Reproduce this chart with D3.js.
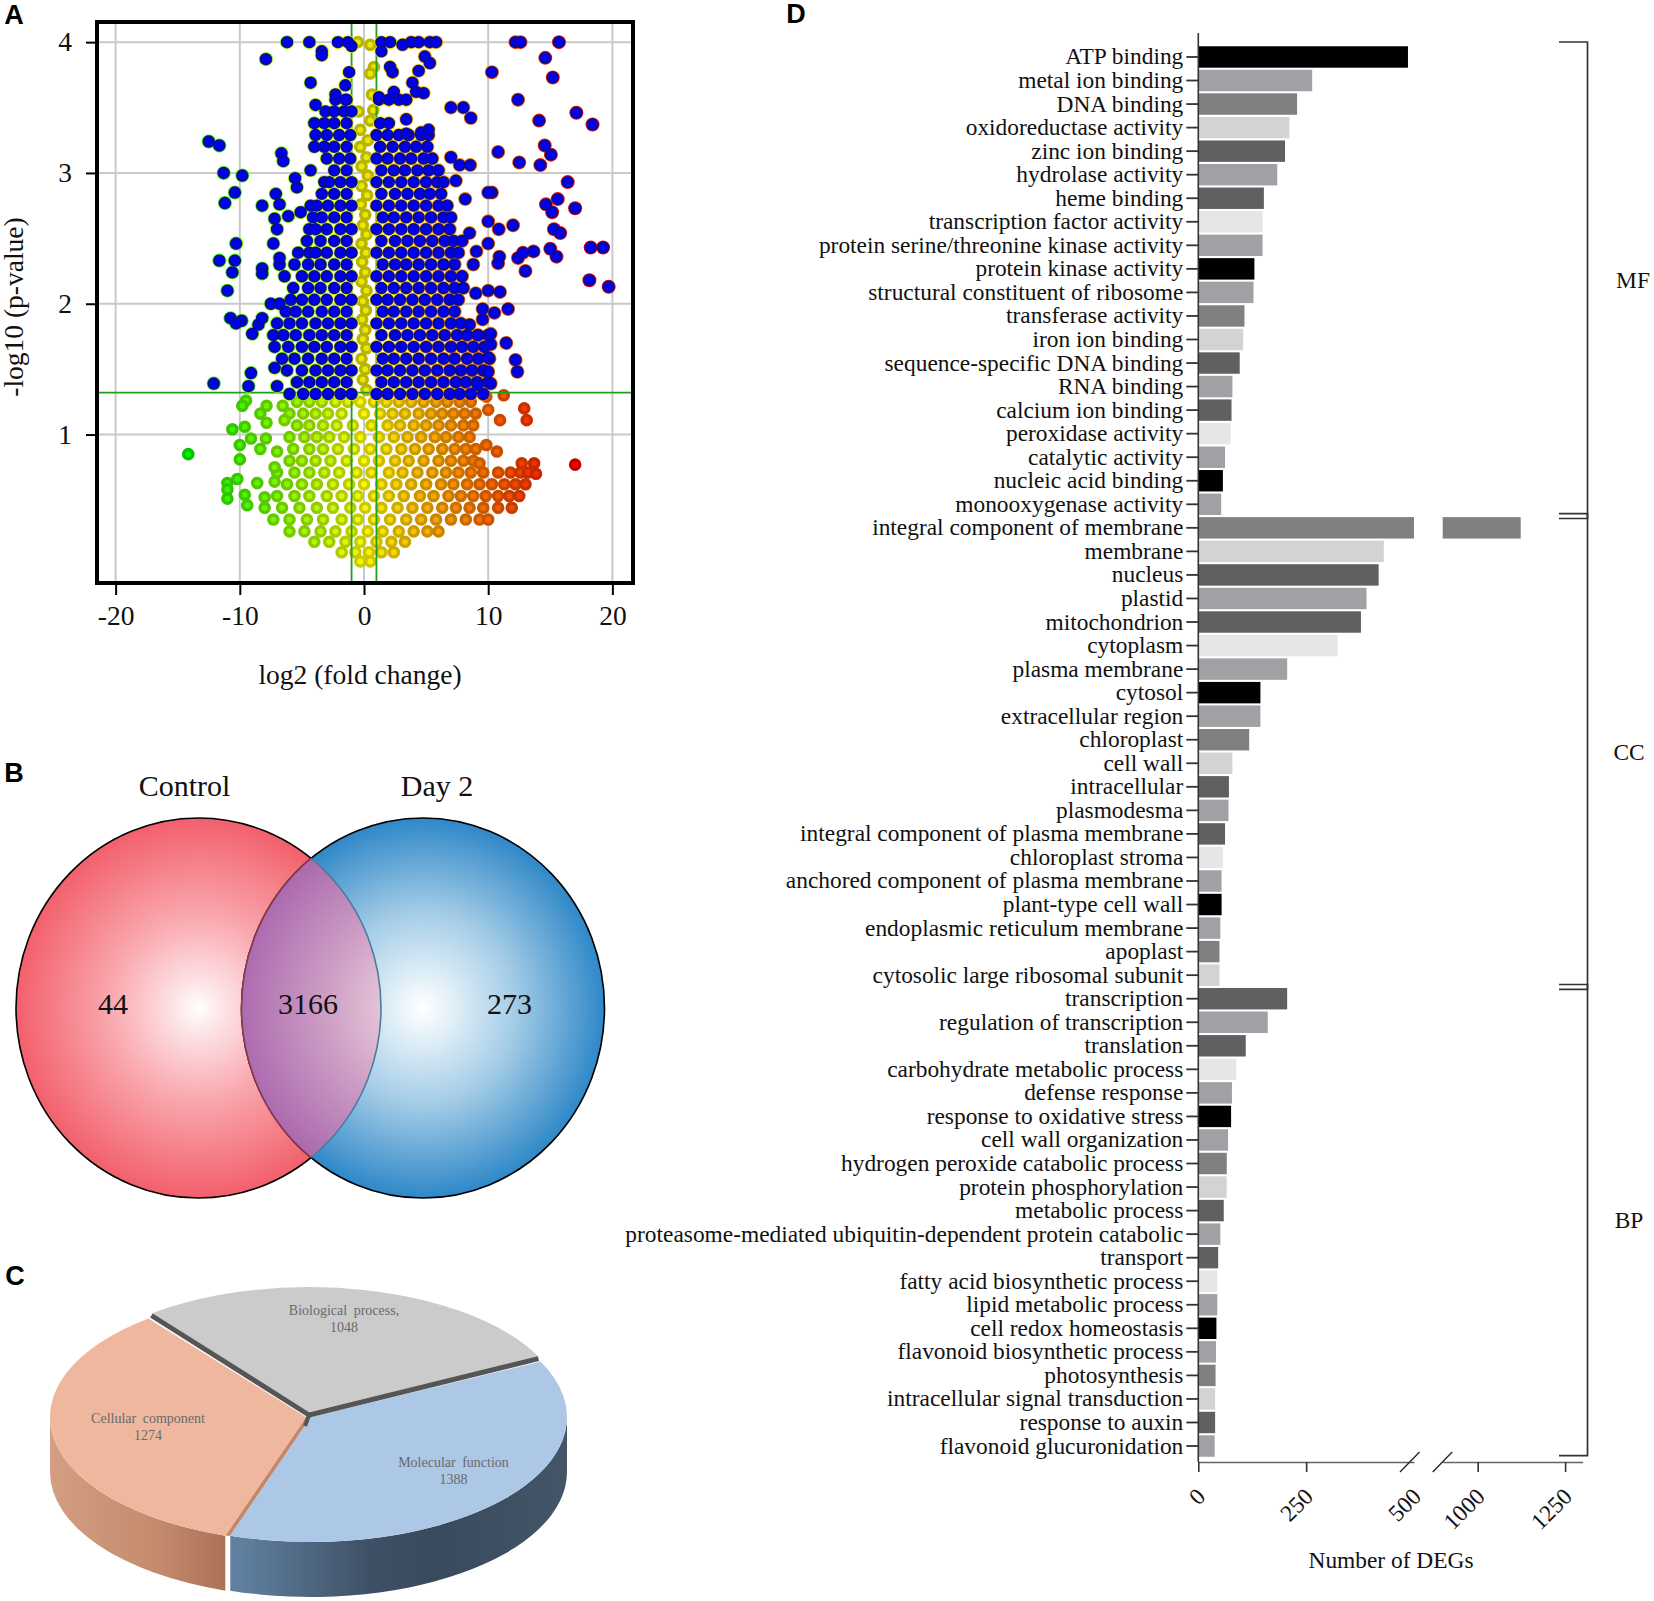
<!DOCTYPE html>
<html>
<head>
<meta charset="utf-8">
<script src="https://cdn.jsdelivr.net/npm/d3@7"></script>
<style>
html,body{margin:0;padding:0;background:#fff}
svg{display:block}
text{font-family:"Liberation Serif",serif;fill:#111}
.letter{font-family:"Liberation Sans",sans-serif;font-weight:700;font-size:27px;fill:#000}
</style>
</head>
<body>
<svg id="c" width="1654" height="1601"></svg>
<script>
// ---------- Panel A data ----------
const volcanoXTicks = [-20,-10,0,10,20];
const volcanoYTicks = [1,2,3,4];
const foldCut = 1;
const pCut = 1.32;
const sigRows = [
[1.31,[-6,-4.9,-3.9,-2.9,-1.9,-1,1,1.9,2.9,3.9,4.9,5.9,6.9,7.7,8.6,9.6]],
[1.40,[-5.4,-4.4,-3.4,-2.4,-1.4,1.4,2.4,3.4,4.4,5.4,6.4,7.4,8.2,9.1,10]],
[1.49,[-6.2,-5,-3.9,-2.9,-1.9,-1,1,1.9,2.9,3.9,4.9,5.9,6.9,7.8,8.7,9.6]],
[1.58,[-6.6,-5.6,-4.5,-3.4,-2.4,-1.4,1.5,2.4,3.4,4.4,5.4,6.4,7.3,8.3,9.2,10.1]],
[1.67,[-7.2,-6.1,-5,-4,-3,-1.9,-1,1,2,3,4,5,6,7,7.9,8.8,9.7]],
[1.76,[-7.3,-6.5,-5.5,-4.4,-3.4,-2.4,-1.4,1.4,2.5,3.5,4.5,5.5,6.5,7.5,8.3,9.2,10]],
[1.85,[-7,-6,-5,-3.9,-2.9,-1.9,-1,1,2,3,4,5,6,7,7.8]],
[1.94,[-6.3,-5.5,-4.5,-3.4,-2.4,-1.4,1.5,2.4,3.4,4.4,5.4,6.4,7.3]],
[2.03,[-5.9,-5,-4,-3,-1.9,-1,1,1.9,2.9,3.9,4.9,5.9,6.9,7.6]],
[2.12,[-5.7,-4.5,-3.5,-2.4,-1.4,1.4,2.4,3.4,4.4,5.4,6.4,7.3,8]],
[2.21,[-6.4,-5,-4,-3,-1.9,-1,1,2,3,4,5,6,7,7.9]],
[2.30,[-6.8,-5.6,-4.5,-3.5,-2.4,-1.4,1.5,2.5,3.4,4.4,5.4,6.4,7.3]],
[2.39,[-5.3,-4.4,-3.9,-3,-1.9,-1,1,2,3,4,5,6,7,7.6]],
[2.48,[-4.6,-3.5,-2.4,-1.4,1.4,2.5,3.5,4.5,5.5,6.5,7.2]],
[2.57,[-4.4,-3.9,-3,-1.9,-1,1,2,3,4,5,6,6.9]],
[2.66,[-4.1,-3.4,-2.4,-1.4,1.5,2.4,3.4,4.4,5.4,6.4,7]],
[2.75,[-4.3,-3.8,-2.9,-1.9,-1,1,2,3,4,5,6,6.7]],
[2.84,[-3.4,-2.4,-1.4,1.4,2.5,3.5,4.5,5.3,6.2]],
[2.93,[-3.2,-2.8,-1.9,-1,1,2,3,4,5,5.9,6.4]],
[3.02,[-2.4,-1.4,1.4,2.4,3.3,4.3,5.2,6]],
[3.11,[-3,-2,-1.1,1,1.9,2.9,3.8,4.8,5.5]],
[3.20,[-4,-3.2,-2.4,-1.4,1.3,2.3,3.3,4.2,5.1]],
[3.29,[-3.9,-3,-2,-1.1,1,1.9,2.8,3.6,4.6,5.2]],
[3.38,[-4,-3.2,-2.4,-1.4,1.3,2]],
[3.47,[-3.1,-2.4,-1.6,-1]],
[3.56,[-2.3,-1.4,1.2,2,2.8,3.4]]
];
const sigOutliers = [
[-6.2,4],[-4.4,4],[-2.1,4],[-1.3,4],[-1,3.97],[1.4,4],[2.1,4],[3.1,3.98],[3.8,4],[4.4,4],[5.3,4],[5.8,4],[12.2,4],[12.6,4],[15.7,4],
[-7.9,3.87],[-3.4,3.93],[-3.4,3.9],[-1.2,3.77],[-4.3,3.69],[-1.5,3.67],[-3.9,3.52],[-2.3,3.6],[-1.5,3.56],
[14.6,3.88],[15.2,3.73],[10.3,3.77],[12.4,3.56],[17.1,3.46],[14.1,3.4],[18.4,3.37],[7,3.5],[8,3.5],[8.6,3.42],
[1.4,3.93],[2.1,3.81],[2.3,3.77],[4.4,3.78],[4.9,3.89],[5.3,3.84],[3.9,3.69],[4.8,3.61],[4.2,3.62],[2.4,3.62],[1.2,3.58],[3.4,3.41],[3.4,3.3],[4.6,3.31],[5.2,3.33],
[-12.5,3.24],[-11.65,3.21],[-11.3,3],[-9.8,2.98],[-10.4,2.85],[-11.2,2.77],[-10.3,2.46],[-11.65,2.33],[-10.4,2.33],[-10.6,2.24],[-11,2.1],[-10.75,1.89],[-9.85,1.87],[-10.3,1.85],[-9,1.77],[-8.5,1.84],[-8.2,1.89],[-12.1,1.39],[-9.1,1.47],[-9.3,1.37],[-7,1.37],[-7.2,1.51],[-7.5,2],[-6.8,2],[-8.2,2.75],[-7.1,2.84],[-6.8,2.76],[-7.2,2.65],[-7,2.57],[-7.3,2.46],[-6.8,2.35],[-8.2,2.27],[-8.2,2.23],[-6.1,2.67],[-5.1,2.7],[-5.55,2.96],[-5.4,2.89],[-6.65,3.15],[-6.5,3.09],[-4.3,3.02],
[10.3,2.85],[10,2.85],[8.15,2.8],[7.4,2.94],[8.55,3.06],[7.7,3.06],[7,3.12],[10.8,3.16],[12.5,3.08],[14.2,3.06],[14.55,3.21],[15.05,3.14],[16.4,2.93],[15.6,2.8],[14.65,2.76],[15.15,2.7],[17,2.73],[10,2.63],[10.85,2.57],[12,2.6],[15.3,2.57],[15.8,2.54],[8.5,2.54],[7.9,2.48],[10,2.46],[9.05,2.4],[10.9,2.36],[10.8,2.31],[8.8,2.3],[12.4,2.35],[12.8,2.39],[13.65,2.4],[13,2.25],[15,2.42],[15.5,2.36],[18.25,2.43],[19.25,2.43],[18.15,2.18],[19.7,2.13],[10,2.1],[10.95,2.09],[9,2.08],[9.55,1.96],[10.5,1.93],[11.6,1.96],[9.55,1.88],[8.5,1.84],[11.45,1.7],[12.2,1.57],[12.35,1.48],[9.15,1.76],[10.2,1.77],[10.2,1.69],[10,1.59],[10,1.48],[10.2,1.39],[9.15,1.38]
];
const columnPoints = [
[-0.5,4],[0.5,3.98],[0.8,3.81],[0.5,3.76],[0.64,3.6],[-0.45,3.47],[0.75,3.48],[0.5,3.4],[-0.3,3.33],[0.3,3.25],[-0.3,3.2],[0.2,3.12],[-0.2,3.05],[0.3,2.98],[-0.2,2.9],[0.25,2.83],[-0.25,2.76],[0.1,2.68],[-0.1,2.6],[0.2,2.53],[-0.2,2.46],[0.15,2.39],[-0.15,2.32],[0.1,2.24],[-0.2,2.17],[0.2,2.1],[-0.1,2.02],[0.15,1.95],[-0.15,1.88],[0.1,1.8],[-0.1,1.73],[0.2,1.66],[-0.2,1.58],[0.1,1.5],[-0.1,1.42],[0.2,1.34]
];
const lowRows = [
[1.25,[-5.4,-4.4,-3.4,-2.3,-1.3,-0.3,0.8,1.8,2.8,3.8,4.8,5.8,6.7,7.7,8.6]],
[1.16,[-6,-4.9,-3.9,-2.9,-1.8,0,1.3,2.3,3.3,4.4,5.4,6.3,7.2,8.1,9]],
[1.07,[-5.4,-4.4,-3.3,-2.2,-0.9,0.6,1.9,2.9,4,5,6,7,8,8.8]],
[0.98,[-6,-4.8,-3.8,-2.8,-1.6,-0.3,1.2,2.4,3.5,4.6,5.7,6.6,7.6,8.5]],
[0.89,[-5.7,-4.4,-3.3,-2.1,-0.8,0.5,1.8,3,4.1,5.2,6.3,7.3,8.2,9]],
[0.80,[-6,-5,-3.9,-2.7,-1.4,0,1.2,2.5,3.6,4.8,6,7,8,8.8]],
[0.71,[-7,-5.6,-4.4,-3.2,-2,-0.6,0.6,2,3.1,4.3,5.5,6.6,7.6,8.6,9.6,10.8,11.8,12.6,13.2]],
[0.62,[-6.2,-5,-3.8,-2.5,-1.2,0,1.4,2.6,3.8,5,6.2,7.2,8.3,9.3,10.3,11.3,12.2,13]],
[0.53,[-7,-5.6,-4.4,-3,-1.8,-0.5,0.8,2,3.2,4.5,5.6,6.8,7.8,8.8,9.8,10.8,11.7,12.5]],
[0.44,[-8,-6.6,-5.2,-3.8,-2.5,-1.1,0.1,1.4,2.7,3.9,5.1,6.3,7.4,8.5,9.6,10.8,11.9]],
[0.35,[-7.3,-6,-4.6,-3.3,-1.8,-0.5,0.8,2.1,3.4,4.6,5.8,7,8.2,9.3,10]],
[0.26,[-6,-4.8,-3.5,-2.3,-1,0.3,1.5,2.8,4,5.1,6]],
[0.18,[-4,-2.8,-1.5,-0.3,1,2.2,3.3]],
[0.10,[-1.8,-0.7,0.4,1.4,2.4]],
[0.03,[-0.3,0.5]]
];
const lowOutliers = [
[-9.5,1.26],[-9.8,1.22],[-7.85,1.22],[-8.35,1.16],[-7.85,1.09],[-6.55,1.22],[-6.4,1.11],[-10.6,1.04],[-9.6,1.06],[-9.1,0.97],[-10,0.92],[-7.9,0.97],[-8.35,0.89],[-10,0.81],[-7,0.87],[-14.15,0.85],[-7.2,0.75],[-10.2,0.66],[-11,0.63],[-11,0.58],[-11,0.51],[-8.6,0.63],[-7.2,0.64],[-9.6,0.54],[-9.4,0.46],[-8,0.52],
[11.25,1.3],[12.9,1.2],[13.1,1.11],[10.95,1.11],[10,1.19],[9.85,1.29],[9.85,0.92],[10.7,0.87],[17,0.77],[13.7,0.78],[12.7,0.78],[13.85,0.7],[9.3,0.78]
];

// ---------- Panel B data ----------
const vennLabels = ["Control","Day 2"];
const vennCounts = [44,3166,273];

// ---------- Panel C data ----------
const pieNames = ["Biological process,","Molecular function","Cellular component"];
const pieValues = [1048,1388,1274];

// ---------- Panel D data ----------
const goTerms = ["ATP binding","metal ion binding","DNA binding","oxidoreductase activity","zinc ion binding","hydrolase activity","heme binding","transcription factor activity","protein serine/threonine kinase activity","protein kinase activity","structural constituent of ribosome","transferase activity","iron ion binding","sequence-specific DNA binding","RNA binding","calcium ion binding","peroxidase activity","catalytic activity","nucleic acid binding","monooxygenase activity",
"integral component of membrane","membrane","nucleus","plastid","mitochondrion","cytoplasm","plasma membrane","cytosol","extracellular region","chloroplast","cell wall","intracellular","plasmodesma","integral component of plasma membrane","chloroplast stroma","anchored component of plasma membrane","plant-type cell wall","endoplasmic reticulum membrane","apoplast","cytosolic large ribosomal subunit",
"transcription","regulation of transcription","translation","carbohydrate metabolic process","defense response","response to oxidative stress","cell wall organization","hydrogen peroxide catabolic process","protein phosphorylation","metabolic process","proteasome-mediated ubiquitin-dependent protein catabolic","transport","fatty acid biosynthetic process","lipid metabolic process","cell redox homeostasis","flavonoid biosynthetic process","photosynthesis","intracellular signal transduction","response to auxin","flavonoid glucuronidation"];
const goCounts = [486,264,229,211,201,183,152,149,149,130,128,107,104,96,79,77,75,62,57,53,
1123,430,418,390,377,323,206,144,144,118,79,71,70,62,57,54,54,51,49,49,
206,161,110,88,78,76,69,66,66,59,51,46,44,44,42,41,40,39,39,38];
const barPalette = ["#000000","#a0a0a5","#808080","#d3d3d3","#606060","#a0a0a5","#606060","#e6e6e6","#a0a0a5"];
const lowTicks = [0,250,500];
const highTicks = [1000,1250];
const brackets = [{name:"MF",from:0,to:19},{name:"CC",from:20,to:39},{name:"BP",from:40,to:59}];

const svg = d3.select("#c");
const defs = svg.append("defs");
const letter = (t,x,y)=>svg.append("text").attr("class","letter").attr("x",x).attr("y",y).attr("text-anchor","middle").attr("dominant-baseline","central").text(t);
letter("A",14,15); letter("B",14,773); letter("C",15,1276); letter("D",796,14);

// ========== A: volcano ==========
(function(){
  const L=97,R=633,T=22,B=583;
  const x=d3.scaleLinear().domain([-21.5,21.66]).range([L,R]);
  const y=d3.scaleLinear().domain([-0.135,4.154]).range([B,T]);
  const g=svg.append("g");
  const flat=rows=>rows.flatMap(([yy,xs])=>xs.map(v=>[v,yy]));
  const hue=d3.scaleLinear().domain([-14,0,17]).range(["#00f000","#f8f800","#f00000"]);
  // grid
  g.append("g").selectAll("line").data(volcanoXTicks).join("line")
    .attr("x1",d=>x(d)).attr("x2",d=>x(d)).attr("y1",T).attr("y2",B).attr("stroke","#c9c9c9").attr("stroke-width",2);
  g.append("g").selectAll("line").data(volcanoYTicks).join("line")
    .attr("y1",d=>y(d)).attr("y2",d=>y(d)).attr("x1",L).attr("x2",R).attr("stroke","#c9c9c9").attr("stroke-width",2);
  const dots=(data,sel)=>sel.selectAll("circle").data(data).join("circle").attr("cx",d=>x(d[0])).attr("cy",d=>y(d[1]));
  // non-significant points
  const low=flat(lowRows).concat(lowOutliers);
  dots(low,g.append("g")).attr("r",4.6).attr("fill",d=>hue(d[0])).attr("stroke",d=>d3.color(hue(d[0])).darker(0.55)).attr("stroke-width",3.4);
  // centre column
  dots(columnPoints,g.append("g")).attr("r",4.6).attr("fill","#e8e800").attr("stroke","#b8b400").attr("stroke-width",3.4);
  // cut-offs
  const cut=g.append("g").attr("stroke","#1ea01e").attr("stroke-width",1.8);
  [-foldCut,foldCut].forEach(v=>cut.append("line").attr("x1",x(v)).attr("x2",x(v)).attr("y1",T).attr("y2",B));
  cut.append("line").attr("x1",L).attr("x2",R).attr("y1",y(pCut)).attr("y2",y(pCut));
  // significant points
  const sig=flat(sigRows).concat(sigOutliers);
  dots(sig,g.append("g")).attr("r",7).attr("fill",d=>hue(d[0]));
  dots(sig,g.append("g")).attr("r",5.2).attr("fill","#0000f0").attr("stroke","#0a0a9a").attr("stroke-width",2);
  // frame and axes
  g.append("rect").attr("x",L).attr("y",T).attr("width",R-L).attr("height",B-T).attr("fill","none").attr("stroke","#000").attr("stroke-width",4);
  const ax=g.append("g").attr("transform",`translate(0,${B})`).call(d3.axisBottom(x).tickValues(volcanoXTicks).tickSize(12).tickPadding(10));
  const ay=g.append("g").attr("transform",`translate(${L},0)`).call(d3.axisLeft(y).tickValues(volcanoYTicks).tickSize(11).tickPadding(14).tickFormat(d3.format("d")));
  [ax,ay].forEach(a=>{a.select(".domain").remove();a.selectAll("line").attr("stroke","#000").attr("stroke-width",2);a.selectAll("text").attr("font-size",27.5).attr("font-family","Liberation Serif").attr("fill","#111");});
  ax.selectAll("text").text(d=>d<0?"-"+Math.abs(d):d);
  g.append("text").attr("x",360).attr("y",684).attr("text-anchor","middle").attr("font-size",27.5).text("log2 (fold change)");
  g.append("text").attr("transform","translate(23,307) rotate(-90)").attr("text-anchor","middle").attr("font-size",27.5).text("-log10 (p-value)");
})();

// ========== B: venn ==========
(function(){
  const cy=1008,ry=190,lc={cx:198.5,rx:182.5},rc={cx:423,rx:181.5};
  const radial=(id,stops,attrs)=>{const g=defs.append("radialGradient").attr("id",id);Object.entries(attrs||{}).forEach(([k,v])=>g.attr(k,v));stops.forEach(s=>g.append("stop").attr("offset",s[0]).attr("stop-color",s[1]));};
  radial("red",[[0,"#ffffff"],[0.12,"#fde6e8"],[0.5,"#f9a5ac"],[1,"#f2606c"]]);
  radial("blue",[[0,"#ffffff"],[0.12,"#eaf4fa"],[0.5,"#a5cde7"],[1,"#2f88c8"]]);
  radial("lens",[[0.2,"#e6c6d8"],[0.5,"#d0a2c6"],[1,"#ad6cb0"]],{gradientUnits:"userSpaceOnUse",cx:rc.cx,cy:cy,r:rc.rx});
  const g=svg.append("g");
  g.append("ellipse").attr("cx",lc.cx).attr("cy",cy).attr("rx",lc.rx).attr("ry",ry).attr("fill","url(#red)").attr("stroke","#000").attr("stroke-width",1.6);
  g.append("ellipse").attr("cx",rc.cx).attr("cy",cy).attr("rx",rc.rx).attr("ry",ry).attr("fill","url(#blue)").attr("stroke","#000").attr("stroke-width",1.6);
  defs.append("clipPath").attr("id","leftClip").append("ellipse").attr("cx",lc.cx).attr("cy",cy).attr("rx",lc.rx).attr("ry",ry);
  defs.append("clipPath").attr("id","rightClip").append("ellipse").attr("cx",rc.cx).attr("cy",cy).attr("rx",rc.rx).attr("ry",ry);
  g.append("g").attr("clip-path","url(#leftClip)").append("ellipse").attr("cx",rc.cx).attr("cy",cy).attr("rx",rc.rx).attr("ry",ry).attr("fill","url(#lens)").attr("stroke","#8a3a50").attr("stroke-width",1.6);
  g.append("g").attr("clip-path","url(#rightClip)").append("ellipse").attr("cx",lc.cx).attr("cy",cy).attr("rx",lc.rx).attr("ry",ry).attr("fill","none").attr("stroke","#4a7d9e").attr("stroke-width",1.6);
  g.append("g").selectAll("text").data(vennLabels).join("text").attr("x",(d,i)=>[184.5,437][i]).attr("y",796).attr("text-anchor","middle").attr("font-size",30).text(d=>d);
  g.append("g").selectAll("text").data(vennCounts).join("text").attr("x",(d,i)=>[113,308,509.5][i]).attr("y",1014).attr("text-anchor","middle").attr("font-size",30).attr("fill","#000").text(d=>d);
})();

// ========== C: 3D pie ==========
(function(){
  const rx=256,ry=125,depth=55,rad=Math.PI/180;
  const arcs=d3.pie().sort(null).startAngle(-38*rad).endAngle(322*rad)(pieValues);
  const arc=d3.arc().innerRadius(0).outerRadius(rx);
  const centers=[{x:309,y:1412},{x:311,y:1417},{x:306,y:1417}];
  const tops=[["#cbcbcb","#bcbcbc"],["#adc7e6","#8fb4e0"],["#efb89e","#f5a584"]];
  const pt=(c,a)=>[c.x+rx*Math.sin(a),c.y-ry*Math.cos(a)];
  const wall=(c,a0,a1)=>{const p0=pt(c,a0),p1=pt(c,a1);return `M${p0}A${rx} ${ry} 0 0 1 ${p1}L${p1[0]} ${p1[1]+depth}A${rx} ${ry} 0 0 0 ${p0[0]} ${p0[1]+depth}Z`;};
  const lin=(id,x1,x2,y1,y2,c1,c2,stops)=>{const g=defs.append("linearGradient").attr("id",id).attr("gradientUnits","userSpaceOnUse").attr("x1",x1).attr("x2",x2).attr("y1",y1).attr("y2",y2);(stops||[[0,c1],[1,c2]]).forEach(s=>g.append("stop").attr("offset",s[0]).attr("stop-color",s[1]));};
  tops.forEach((t,i)=>lin("top"+i,0,0,1285,1545,t[0],t[1]));
  lin("wallB",240,566,0,0,null,null,[[0,"#60809f"],[0.4,"#3f5066"],[0.6,"#394a5c"],[1,"#445568"]]);
  lin("wallO",50,232,0,0,null,null,[[0,"#d49e82"],[0.6,"#c48a6c"],[1,"#a96f56"]]);
  const g=svg.append("g");
  const face=(i)=>g.append("path").attr("d",arc(arcs[i])).attr("transform",`translate(${centers[i].x},${centers[i].y}) scale(1,${ry/rx})`).attr("fill",`url(#top${i})`);
  face(0);
  // orange: wall, then the band of its cut face, then top
  g.append("path").attr("d",wall(centers[2],arcs[2].startAngle,270*rad)).attr("fill","url(#wallO)");
  const oR=pt(centers[2],arcs[2].startAngle), bR=pt(centers[1],arcs[1].endAngle);
  g.append("path").attr("d",`M${centers[2].x},${centers[2].y}L${oR}L${bR}L${centers[1].x},${centers[1].y}Z`).attr("fill","#c4876a");
  face(2);
  g.append("path").attr("d",wall(centers[1],90*rad,arcs[1].endAngle)).attr("fill","url(#wallB)");
  face(1);
  // separators
  const sep=g.append("g").attr("stroke","#555").attr("stroke-width",5).attr("fill","none");
  const c0=centers[0];
  [arcs[0].startAngle,arcs[0].endAngle].forEach(a=>{const p=pt(c0,a);sep.append("line").attr("x1",c0.x).attr("y1",c0.y+3).attr("x2",p[0]).attr("y2",p[1]+2);});
  sep.append("line").attr("x1",c0.x).attr("y1",c0.y+3).attr("x2",c0.x-4).attr("y2",c0.y+14).attr("stroke-width",4);
  const lab=[[344,1315],[453.5,1467],[148,1423]];
  pieNames.forEach((n,i)=>{
    const t=g.append("text").attr("text-anchor","middle").attr("font-size",14).attr("style","fill:#6a6a6a;word-spacing:3px");
    t.append("tspan").attr("x",lab[i][0]).attr("y",lab[i][1]).text(n);
    t.append("tspan").attr("x",lab[i][0]).attr("y",lab[i][1]+17).text(pieValues[i]);
  });
})();

// ========== D: GO bars ==========
(function(){
  const x0=1198.3;
  const xA=d3.scaleLinear().domain([0,500]).range([x0,1414]);
  const xB=d3.scaleLinear().domain([900,1300]).range([1442.7,1582.6]);
  const y=d3.scaleBand().domain(goTerms).range([45.2,1457.8]).paddingInner(0.09).paddingOuter(0.045);
  const g=svg.append("g");
  const row=g.append("g").selectAll("g").data(goTerms).join("g");
  row.append("rect").attr("x",x0).attr("y",d=>y(d)).attr("height",y.bandwidth())
    .attr("width",(d,i)=>xA(Math.min(goCounts[i],500))-x0).attr("fill",(d,i)=>barPalette[i%barPalette.length]);
  row.filter((d,i)=>goCounts[goTerms.indexOf(d)]>500).append("rect").attr("x",xB(900)).attr("y",d=>y(d)).attr("height",y.bandwidth())
    .attr("width",d=>xB(goCounts[goTerms.indexOf(d)])-xB(900)).attr("fill",d=>barPalette[goTerms.indexOf(d)%barPalette.length]);
  const ay=g.append("g").attr("transform",`translate(${x0},0)`).call(d3.axisLeft(y).tickSize(12).tickPadding(3));
  ay.select(".domain").remove();
  ay.selectAll("line").attr("stroke","#333").attr("stroke-width",1.8);
  ay.selectAll("text").attr("font-size",23.4).attr("font-family","Liberation Serif").attr("fill","#111");
  g.append("line").attr("x1",x0).attr("x2",x0).attr("y1",33).attr("y2",1462).attr("stroke","#333").attr("stroke-width",1.6);
  const axisY=1462;
  const a1=g.append("g").attr("transform",`translate(0,${axisY})`).call(d3.axisBottom(xA).tickValues(lowTicks).tickSize(10).tickSizeOuter(0).tickFormat(d3.format("d")));
  const a2=g.append("g").attr("transform",`translate(0,${axisY})`).call(d3.axisBottom(xB).tickValues(highTicks).tickSize(10).tickSizeOuter(0).tickFormat(d3.format("d")));
  [a1,a2].forEach(a=>{
    a.select(".domain").attr("stroke","#666").attr("stroke-width",1.6);
    a.selectAll("line").attr("stroke","#333").attr("stroke-width",1.6);
    a.selectAll("text").attr("font-size",23.4).attr("font-family","Liberation Serif").attr("fill","#111")
      .attr("text-anchor","end").attr("dy",0).attr("y",0).attr("transform","translate(8,36) rotate(-45)");
  });
  a1.selectAll(".tick").filter(d=>d===500).select("line").remove();
  [xA(500)-4,xB(900)].forEach(c=>g.append("line").attr("x1",c-10).attr("x2",c+9.5).attr("y1",axisY+10).attr("y2",axisY-10).attr("stroke","#222").attr("stroke-width",1.3));
  g.append("text").attr("x",1391).attr("y",1568).attr("text-anchor","middle").attr("font-size",23.4).text("Number of DEGs");
  // brackets
  const bx0=1559,bx1=1587.5;
  brackets.forEach(b=>{
    const t=y(goTerms[b.from])-3.5,u=y(goTerms[b.to])+y.bandwidth()+3.5;
    const top=b.from===0?42:t,bot=b.to===59?1455.6:u;
    g.append("path").attr("d",d3.line()([[bx0,top],[bx1,top],[bx1,bot],[bx0,bot]])).attr("fill","none").attr("stroke","#333").attr("stroke-width",1.7);
    g.append("text").attr("x",b.name==="MF"?1633:1629).attr("y",(top+bot)/2+8).attr("text-anchor","middle").attr("font-size",23.4).text(b.name);
  });
})();
</script>
</body>
</html>
